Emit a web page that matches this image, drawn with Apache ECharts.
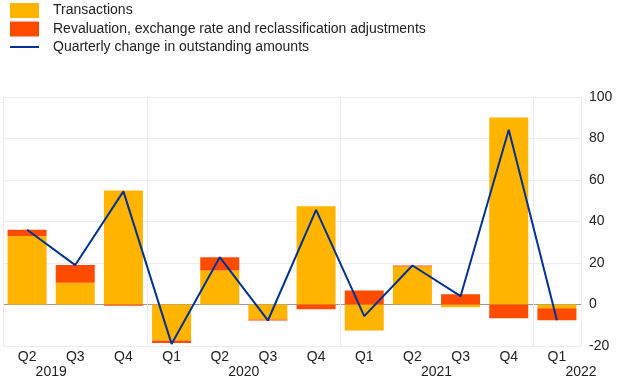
<!DOCTYPE html>
<html>
<head>
<meta charset="utf-8">
<script src="https://cdn.jsdelivr.net/npm/echarts@6/dist/echarts.min.js"></script>
<style>html,body{margin:0;padding:0;background:#fff}#c{width:620px;height:387px}</style>
</head>
<body>
<div id="c"></div>
<script>
const quarters = ['Q2','Q3','Q4','Q1','Q2','Q3','Q4','Q1','Q2','Q3','Q4','Q1'];
const yearLabels = { '0.5': '2019', '4.5': '2020', '8.5': '2021', '11.5': '2022' };
const transactions = [33, 10.5, 55, -17.3, 16.4, -7.2, 47.4, -12.5, 18.3, -1.3, 90.1, -1.8];
const revaluation = [3, 8.5, -0.6, -1.3, 6.4, -0.5, -2.3, 6.7, 0.5, 5.0, -6.6, -5.8];
const quarterlyChange = [36, 19, 54.5, -19, 22.8, -7.7, 45.6, -5.6, 18.8, 4, 84.2, -7.6];
const yTicks = { min: -20, max: 100, interval: 20 };

const chart = echarts.init(document.getElementById('c'));
const boundaryIdx = [0, 3, 7, 11, 12];
chart.setOption({
  animation: false,
  textStyle: { fontFamily: 'Liberation Sans, Arial, sans-serif' },
  legend: {
    orient: 'vertical', left: 9, top: 3, padding: 0,
    itemWidth: 29, itemHeight: 15, itemGap: 3.5,
    textStyle: { fontSize: 14, color: '#222', padding: [0, 0, 0, 9] },
    data: [
      { name: 'Transactions', icon: 'rect' },
      { name: 'Revaluation, exchange rate and reclassification adjustments', icon: 'rect' },
      { name: 'Quarterly change in outstanding amounts', itemStyle: { opacity: 0 } }
    ]
  },
  grid: { left: 0, right: 39, top: 97, bottom: 41, containLabel: false },
  xAxis: [
    {
      type: 'category', data: quarters, position: 'bottom',
      axisLine: { show: false },
      axisTick: { show: true, length: 6, interval: (i) => boundaryIdx.indexOf(i) >= 0 && i !== 0 && i !== 12, lineStyle: { color: '#e6e6e6' } },
      splitLine: { show: true, interval: (i) => boundaryIdx.indexOf(i) >= 0, lineStyle: { color: '#ececec' } },
      axisLabel: { fontSize: 14, color: '#222', margin: 4, interval: 0 }
    },
    {
      type: 'value', position: 'bottom', offset: 15, min: -0.5, max: 11.5, interval: 0.5,
      axisLine: { show: false }, axisTick: { show: false }, splitLine: { show: false },
      axisLabel: { fontSize: 14, color: '#222', margin: 4, showMinLabel: true, showMaxLabel: true,
        formatter: (v) => yearLabels[String(v)] || '' }
    }
  ],
  yAxis: {
    type: 'value', position: 'right', min: yTicks.min, max: yTicks.max, interval: yTicks.interval,
    axisLine: { show: false }, axisTick: { show: false },
    axisLabel: { fontSize: 14, color: '#222', margin: 8 },
    splitLine: { show: true, lineStyle: { color: ['#ececec', '#999999', '#ececec', '#ececec', '#ececec', '#ececec', '#ececec'], width: 1 } }
  },
  series: [
    {
      name: 'Transactions', type: 'bar', stack: 'total', data: transactions,
      barCategoryGap: '19%', itemStyle: { color: '#FFB400' }
    },
    {
      name: 'Revaluation, exchange rate and reclassification adjustments', type: 'bar', stack: 'total', data: revaluation,
      itemStyle: { color: '#FF4B00' }
    },
    {
      name: 'Quarterly change in outstanding amounts', type: 'line', data: quarterlyChange,
      symbol: 'none', showSymbol: false, z: 5,
      lineStyle: { color: '#003299', width: 2 }, itemStyle: { color: '#003299' }
    }
  ]
});
</script>
</body>
</html>
